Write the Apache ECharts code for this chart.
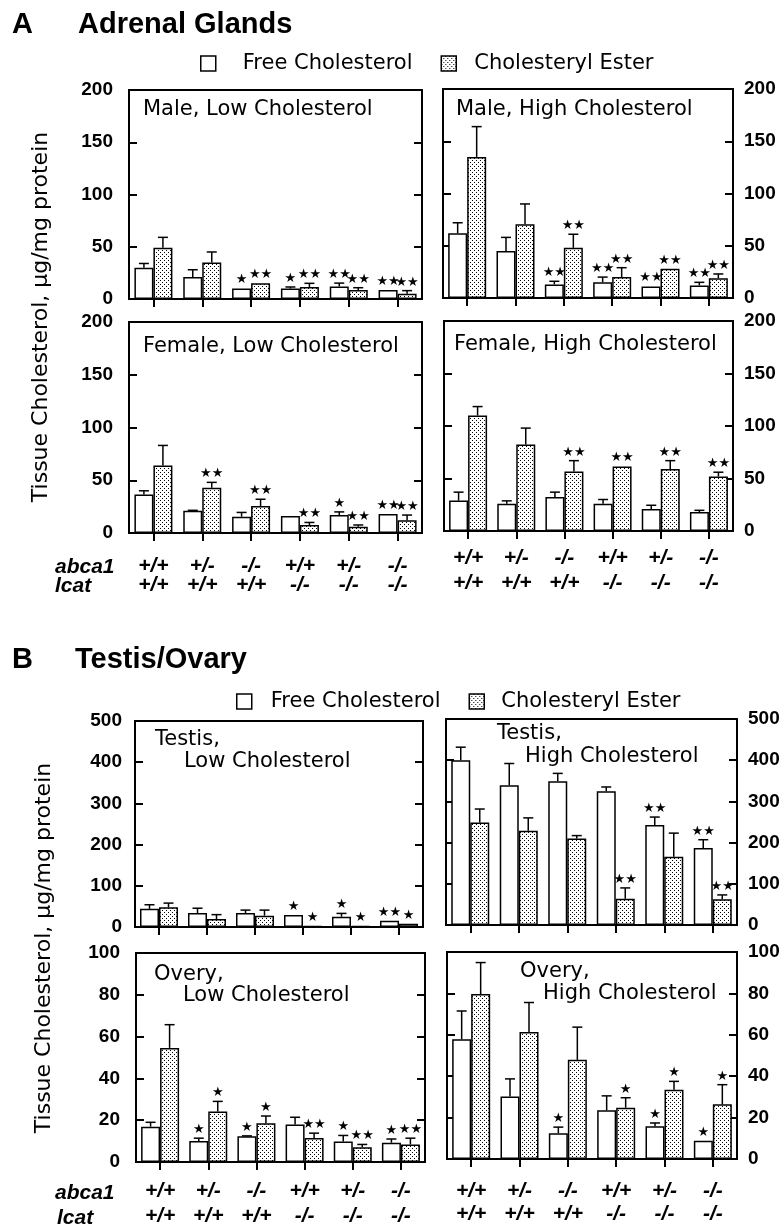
<!DOCTYPE html>
<html><head><meta charset="utf-8">
<script src="https://cdn.jsdelivr.net/npm/echarts/dist/echarts.min.js"></script>
<style>html,body{margin:0;padding:0;background:#fff}#c{width:784px;height:1229px}</style>
</head><body><div id="c"></div>
<script>
// ---------- categories ----------
const abca1 = ['+/+', '+/-', '-/-', '+/+', '+/-', '-/-'];
const lcat  = ['+/+', '+/+', '+/+', '-/-', '-/-', '-/-'];
const seriesNames = ['Free Cholesterol', 'Cholesteryl Ester'];
// ---------- y tick labels ----------
const yTicksAdrenal = [0, 50, 100, 150, 200];
const yTicksTestis  = [0, 100, 200, 300, 400, 500];
const yTicksOvary   = [0, 20, 40, 60, 80, 100];

// ---------- A: Adrenal glands ----------
const maleLowFC     = [30, 21, 10, 10, 12, 8.6];
const maleLowFCErr  = [4, 7, 0, 1.5, 3.2, 0];
const maleLowFCSig  = [0, 0, 1, 1, 2, 2];
const maleLowCE     = [49, 35, 15, 11.5, 8.6, 5];
const maleLowCEErr  = [10, 10, 0, 3.5, 2.2, 3];
const maleLowCESig  = [0, 0, 2, 2, 2, 2];

const maleHighFC    = [62, 45, 13, 15, 11, 12];
const maleHighFCErr = [10, 13, 3, 5, 0, 3];
const maleHighFCSig = [0, 0, 2, 2, 2, 2];
const maleHighCE    = [135, 70.5, 48, 20, 28, 19];
const maleHighCEErr = [29, 19.5, 13, 9, 0, 4];
const maleHighCESig = [0, 0, 2, 2, 2, 2];

const femaleLowFC    = [36.5, 21, 15.5, 16, 17, 18];
const femaleLowFCErr = [3.5, 0.5, 4, 0, 3, 0];
const femaleLowFCSig = [0, 0, 0, 0, 1, 2];
const femaleLowCE    = [64, 43, 25.6, 7.6, 6, 12];
const femaleLowCEErr = [19, 5, 6.4, 2.4, 1.6, 5];
const femaleLowCESig = [0, 2, 2, 2, 2, 2];

const femaleHighFC    = [29, 26, 32.5, 26, 21, 18];
const femaleHighFCErr = [8, 2.7, 4.5, 4, 3.5, 1.7];
const femaleHighFCSig = [0, 0, 0, 0, 0, 0];
const femaleHighCE    = [110, 82.5, 56.7, 61.5, 59, 52];
const femaleHighCEErr = [8.5, 15.5, 10.3, 0, 8, 4];
const femaleHighCESig = [0, 0, 2, 2, 2, 2];

// ---------- B: Testis / Ovary ----------
const testisLowFC    = [44, 34, 34, 29, 25, 15];
const testisLowFCErr = [10, 11.6, 7, 0, 8, 0];
const testisLowFCSig = [0, 0, 0, 1, 1, 2];
const testisLowCE    = [48, 19.5, 27.6, 2, 2, 8];
const testisLowCEErr = [10, 10.5, 13.4, 0, 0, 0];
const testisLowCESig = [0, 0, 0, 1, 1, 1];

const testisHighFC    = [400, 339, 349, 324.5, 243, 186.6];
const testisHighFCErr = [31.6, 53, 19, 10.5, 19, 20.4];
const testisHighFCSig = [0, 0, 0, 0, 2, 2];
const testisHighCE    = [249, 229, 210, 64, 165.5, 62.5];
const testisHighCEErr = [32.5, 31, 7, 26, 57.5, 10.5];
const testisHighCESig = [0, 0, 0, 2, 0, 2];

const ovaryLowFC    = [16.9, 10, 12.3, 17.9, 9.8, 9.2];
const ovaryLowFCErr = [2.1, 1.4, 0.2, 3.5, 2.9, 1.8];
const ovaryLowFCSig = [0, 1, 1, 0, 1, 1];
const ovaryLowCE    = [54.6, 24.2, 18.5, 11.5, 7.1, 8.4];
const ovaryLowCEErr = [11.1, 4.8, 3.5, 2.3, 1.3, 3];
const ovaryLowCESig = [0, 1, 1, 2, 2, 2];

const ovaryHighFC    = [57.9, 30.2, 12.5, 23.5, 15.8, 8.8];
const ovaryHighFCErr = [13.6, 8.5, 2.9, 7, 1.6, 0];
const ovaryHighFCSig = [0, 0, 1, 0, 1, 1];
const ovaryHighCE    = [79.7, 61.4, 47.9, 24.8, 33.4, 26.4];
const ovaryHighCEErr = [15.2, 14.2, 15.8, 4.8, 4.1, 9.5];
const ovaryHighCESig = [0, 0, 0, 1, 1, 1];

// ---------- build ----------
const categories = abca1.map((a, i) => a + '\n' + lcat[i]);

const pc = document.createElement('canvas');
pc.width = 4; pc.height = 4;
const pctx = pc.getContext('2d');
pctx.fillStyle = '#fff'; pctx.fillRect(0, 0, 4, 4);
pctx.fillStyle = '#000';
pctx.fillRect(0, 0, 1, 1); pctx.fillRect(2, 2, 1, 1);
const dotted = { image: pc, repeat: 'repeat' };

const BW = 19;
const panels = [
  { fc: [maleLowFC, maleLowFCErr, maleLowFCSig], ce: [maleLowCE, maleLowCEErr, maleLowCESig], ticks: yTicksAdrenal,
    grid: { left: 129, top: 90, width: 293, height: 209 }, col: 0, lm: 16, xl: null },
  { fc: [maleHighFC, maleHighFCErr, maleHighFCSig], ce: [maleHighCE, maleHighCEErr, maleHighCESig], ticks: yTicksAdrenal,
    grid: { left: 443, top: 89, width: 290, height: 209 }, col: 1, lm: 11, xl: null },
  { fc: [femaleLowFC, femaleLowFCErr, femaleLowFCSig], ce: [femaleLowCE, femaleLowCEErr, femaleLowCESig], ticks: yTicksAdrenal,
    grid: { left: 129, top: 322, width: 293, height: 211 }, col: 0, lm: 16, xl: { lh: 19, m: 24 } },
  { fc: [femaleHighFC, femaleHighFCErr, femaleHighFCSig], ce: [femaleHighCE, femaleHighCEErr, femaleHighCESig], ticks: yTicksAdrenal,
    grid: { left: 444, top: 321, width: 289, height: 210 }, col: 1, lm: 11, xl: { lh: 25, m: 15 } },
  { fc: [testisLowFC, testisLowFCErr, testisLowFCSig], ce: [testisLowCE, testisLowCEErr, testisLowCESig], ticks: yTicksTestis,
    grid: { left: 135, top: 721, width: 288, height: 206 }, col: 0, lm: 13, xl: null },
  { fc: [testisHighFC, testisHighFCErr, testisHighFCSig], ce: [testisHighCE, testisHighCEErr, testisHighCESig], ticks: yTicksTestis,
    grid: { left: 446, top: 719, width: 291, height: 206 }, col: 1, lm: 11, xl: null },
  { fc: [ovaryLowFC, ovaryLowFCErr, ovaryLowFCSig], ce: [ovaryLowCE, ovaryLowCEErr, ovaryLowCESig], ticks: yTicksOvary,
    grid: { left: 136, top: 953, width: 289, height: 210 }, col: 0, lm: 16, xl: { lh: 25, m: 17 } },
  { fc: [ovaryHighFC, ovaryHighFCErr, ovaryHighFCSig], ce: [ovaryHighCE, ovaryHighCEErr, ovaryHighCESig], ticks: yTicksOvary,
    grid: { left: 447, top: 952, width: 290, height: 207 }, col: 1, lm: 11, xl: { lh: 23, m: 21 } }
];

function yAxis(gi, pos, ticks, showLabel, margin) {
  return {
    type: 'value', gridIndex: gi, position: pos,
    min: ticks[0], max: ticks[ticks.length - 1], interval: ticks[1] - ticks[0],
    axisLine: { show: true, onZero: false, lineStyle: { color: '#000', width: 2 } },
    axisTick: { show: true, inside: true, length: 8, lineStyle: { color: '#000', width: 2 } },
    axisLabel: { show: showLabel, margin: margin, color: '#000', fontFamily: 'Liberation Sans', fontWeight: 'bold', fontSize: 19 },
    splitLine: { show: false }
  };
}

function renderErr(params, api) {
  const cat = api.value(0), v = api.value(1), e = api.value(2), side = api.value(3), sig = api.value(4);
  const p0 = api.coord([cat, v]);
  const x = p0[0] + side * BW / 2;
  const y0 = p0[1];
  const y1 = api.coord([cat, v + e])[1];
  const ch = [];
  if (e > 0) {
    ch.push({ type: 'line', shape: { x1: x, y1: y0, x2: x, y2: y1 }, style: { stroke: '#000', lineWidth: 1.5 } });
    ch.push({ type: 'line', shape: { x1: x - 5, y1: y1, x2: x + 5, y2: y1 }, style: { stroke: '#000', lineWidth: 1.5 } });
  }
  if (sig > 0) {
    ch.push({ type: 'text', x: x, y: Math.min(y0, y1) - 2,
      style: { text: '\u2605'.repeat(sig), font: '13px "DejaVu Sans"', fill: '#000',
               align: 'center', verticalAlign: 'bottom', textAlign: 'center', textVerticalAlign: 'bottom' } });
  }
  return { type: 'group', children: ch };
}

const grids = [], xAxes = [], yAxes = [], series = [];
panels.forEach((p, gi) => {
  grids.push(Object.assign({ show: true, borderColor: '#000', borderWidth: 2, backgroundColor: '#fff', containLabel: false }, p.grid));
  xAxes.push({
    type: 'category', gridIndex: gi, data: categories,
    axisLine: { show: true, lineStyle: { color: '#000', width: 2 } },
    axisTick: { show: true, alignWithLabel: true, length: 8, inside: false, lineStyle: { color: '#000', width: 2 } },
    axisLabel: p.xl ? { show: true, interval: 0, margin: p.xl.m, lineHeight: p.xl.lh, color: '#000',
      fontFamily: 'Liberation Sans', fontStyle: 'italic', fontWeight: 'bold', fontSize: 21 } : { show: false },
    splitLine: { show: false }
  });
  yAxes.push(yAxis(gi, 'left', p.ticks, p.col === 0, p.lm));
  yAxes.push(yAxis(gi, 'right', p.ticks, p.col === 1, p.lm));
  const yi = gi * 2;
  series.push({ type: 'bar', name: seriesNames[0], xAxisIndex: gi, yAxisIndex: yi, data: p.fc[0],
    barWidth: BW, barGap: '0%', itemStyle: { color: '#fff', borderColor: '#000', borderWidth: 1.5 }, silent: true });
  series.push({ type: 'bar', name: seriesNames[1], xAxisIndex: gi, yAxisIndex: yi, data: p.ce[0],
    barWidth: BW, barGap: '0%', itemStyle: { color: dotted, borderColor: '#000', borderWidth: 1.5 }, silent: true });
  const ed = [];
  for (let i = 0; i < categories.length; i++) {
    ed.push([i, p.fc[0][i], p.fc[1][i], -1, p.fc[2][i]]);
    ed.push([i, p.ce[0][i], p.ce[1][i], 1, p.ce[2][i]]);
  }
  series.push({ type: 'custom', xAxisIndex: gi, yAxisIndex: yi, data: ed, renderItem: renderErr,
    encode: { x: 0, y: 1 }, clip: false, z: 5, silent: true });
});

function txt(x, y, text, font, align, rot) {
  return { type: 'text', x: x, y: y, rotation: rot || 0, silent: true,
    style: { text: text, font: font, fill: '#000', align: align || 'left', verticalAlign: 'middle',
             textAlign: align || 'left', textVerticalAlign: 'middle' } };
}
const F_TITLE = 'bold 29px "Liberation Sans"';
const F_PANEL = '21px "DejaVu Sans"';
const F_YT = '22px "DejaVu Sans"';
const F_ROW = 'italic bold 21px "Liberation Sans"';
const yTitle = 'Tissue Cholesterol, \u03bcg/mg protein';

const graphics = [
  txt(12, 25, 'A', F_TITLE), txt(78, 25, 'Adrenal Glands', F_TITLE),
  txt(12, 660, 'B', F_TITLE), txt(75, 660, 'Testis/Ovary', F_TITLE),
  txt(41, 317, yTitle, F_YT, 'center', Math.PI / 2),
  txt(44, 948, yTitle, F_YT, 'center', Math.PI / 2),
  txt(55, 567, 'abca1', F_ROW), txt(55, 586, 'lcat', F_ROW),
  txt(55, 1193, 'abca1', F_ROW), txt(57, 1218, 'lcat', F_ROW),
  txt(143, 110, 'Male, Low Cholesterol', F_PANEL),
  txt(456, 110, 'Male, High Cholesterol', F_PANEL),
  txt(143, 347, 'Female, Low Cholesterol', F_PANEL),
  txt(454, 345, 'Female, High Cholesterol', F_PANEL),
  txt(155, 740, 'Testis,', F_PANEL), txt(184, 762, 'Low Cholesterol', F_PANEL),
  txt(497, 734, 'Testis,', F_PANEL), txt(525, 757, 'High Cholesterol', F_PANEL),
  txt(154, 975, 'Overy,', F_PANEL), txt(183, 996, 'Low Cholesterol', F_PANEL),
  txt(520, 972, 'Overy,', F_PANEL), txt(543, 994, 'High Cholesterol', F_PANEL)
];

function legend(left, top, gap, pad1, pad2) {
  return {
    left: left, top: top, orient: 'horizontal', itemWidth: 15, itemHeight: 15, itemGap: gap,
    selectedMode: false, icon: 'rect',
    itemStyle: { borderColor: '#000', borderWidth: 1.5 },
    textStyle: { fontFamily: 'DejaVu Sans', fontSize: 21, color: '#000' },
    data: [
      { name: seriesNames[0], textStyle: { padding: [0, 0, 0, pad1] } },
      { name: seriesNames[1], textStyle: { padding: [0, 0, 0, pad2] } }
    ]
  };
}

const chart = echarts.init(document.getElementById('c'), null, { renderer: 'canvas' });
chart.setOption({
  animation: false,
  backgroundColor: '#fff',
  grid: grids, xAxis: xAxes, yAxis: yAxes, series: series,
  legend: [legend(195, 48, 28, 22, 13), legend(231, 686, 28, 14, 12)],
  graphic: graphics
});
</script></body></html>
